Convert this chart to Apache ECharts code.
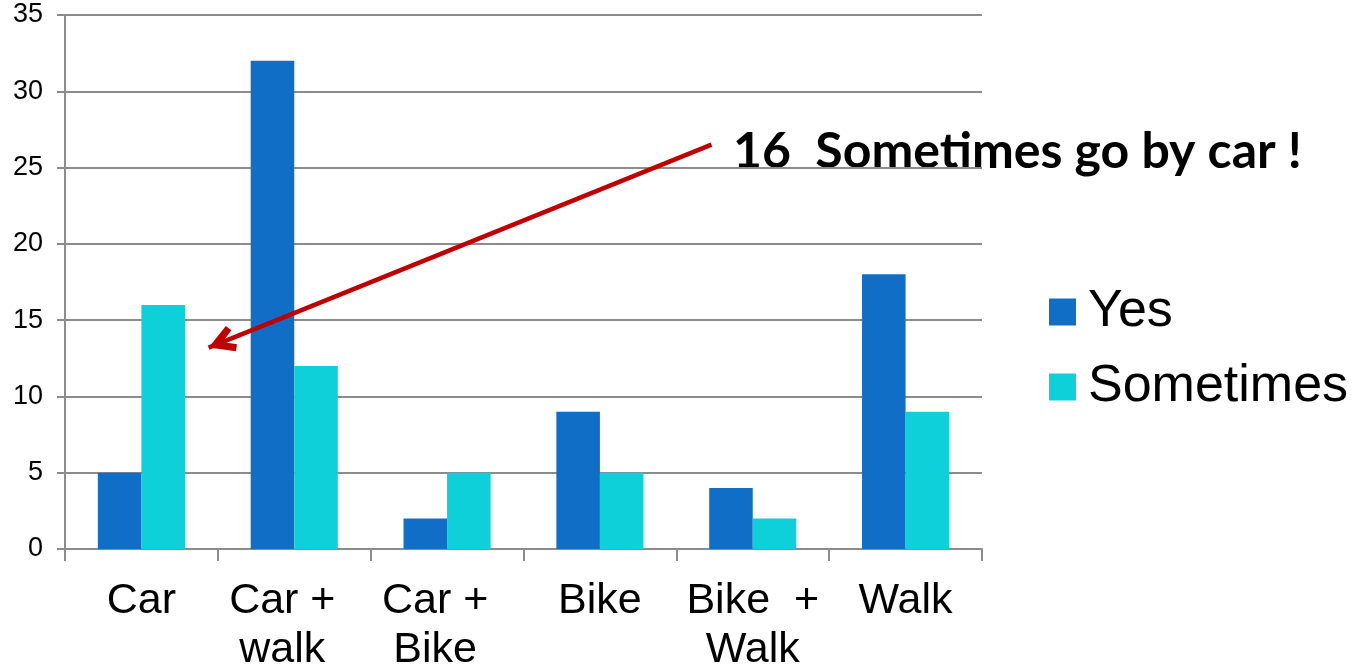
<!DOCTYPE html>
<html>
<head>
<meta charset="utf-8">
<script src="https://cdn.jsdelivr.net/npm/echarts@6/dist/echarts.min.js"></script>
<style>html,body{margin:0;padding:0;background:#fff;}#c{width:1358px;height:666px;}</style>
</head>
<body>
<div id="c"></div>
<script>
const categories = ['Car', 'Car +  \nwalk  ', 'Car +  \nBike  ', 'Bike', 'Bike  +\nWalk', 'Walk'];
const yesValues = [5, 32, 2, 9, 4, 18];
const sometimesValues = [16, 12, 5, 5, 2, 9];
const yTicks = {min: 0, max: 35, interval: 5};
const annotationText = '16  Sometimes go by car !';
const arrowFrom = [3.73, 26.5];
const arrowTo = [0.44, 13.2];

const chart = echarts.init(document.getElementById('c'), null, {renderer: 'canvas'});
const gridColor = '#8c8c8c';
const font = '"Liberation Sans", Arial, sans-serif';

chart.setOption({
  animation: false,
  backgroundColor: '#ffffff',
  grid: {left: 65, right: 376, top: 15, bottom: 117, containLabel: false, outerBoundsMode: 'none'},
  legend: {
    orient: 'vertical',
    left: 1044,
    top: 276,
    itemWidth: 27,
    itemHeight: 27,
    itemGap: 13,
    icon: 'rect',
    textStyle: {fontFamily: font, fontSize: 52, color: '#000', lineHeight: 62, padding: [0, 0, 0, 7]},
    data: ['Yes', 'Sometimes']
  },
  xAxis: [{
    type: 'category',
    data: categories,
    axisLine: {lineStyle: {color: gridColor, width: 2}},
    axisTick: {show: true, length: 12, lineStyle: {color: gridColor, width: 2}, alignWithLabel: false},
    axisLabel: {fontFamily: font, fontSize: 43, color: '#000', lineHeight: 49, margin: 28, interval: 0}
  }, {
    type: 'value', min: -0.5, max: 5.5, show: false
  }],
  yAxis: {
    type: 'value',
    min: yTicks.min, max: yTicks.max, interval: yTicks.interval,
    axisLine: {show: true, onZero: false, lineStyle: {color: gridColor, width: 2}},
    axisTick: {show: true, length: 8, lineStyle: {color: gridColor, width: 2}},
    splitLine: {show: true, lineStyle: {color: gridColor, width: 2}},
    axisLabel: {fontFamily: font, fontSize: 27, color: '#000', margin: 22}
  },
  series: [{
    name: 'Yes', type: 'bar', data: yesValues,
    itemStyle: {color: '#116ec6'},
    barGap: '0%', barCategoryGap: '43%'
  }, {
    name: 'Sometimes', type: 'bar', data: sometimesValues,
    itemStyle: {color: '#0dd0d8'},
    barGap: '0%', barCategoryGap: '43%'
  }, {
    name: 'arrow', type: 'scatter', xAxisIndex: 1, symbolSize: 0,
    data: [arrowTo], silent: true,
    markLine: {
      silent: true,
      symbol: ['none', 'path://M0,-1 L13.5,23 L7.5,26.5 L0,14 L-7.5,26.5 L-13.5,23 Z M0,-28.5 L0.02,-28.5 L0,-28.48 Z'],
      symbolSize: [27, 55],
      label: {show: false},
      lineStyle: {color: '#c00000', width: 4.5, type: 'solid'},
      data: [[{coord: arrowFrom}, {coord: arrowTo}]]
    }
  }],
  graphic: [{
    type: 'text', left: 733, top: 127,
    style: {text: annotationText, font: 'bold 50px Lato, "Open Sans", sans-serif', fill: '#000'}
  }]
});
</script>
</body>
</html>
